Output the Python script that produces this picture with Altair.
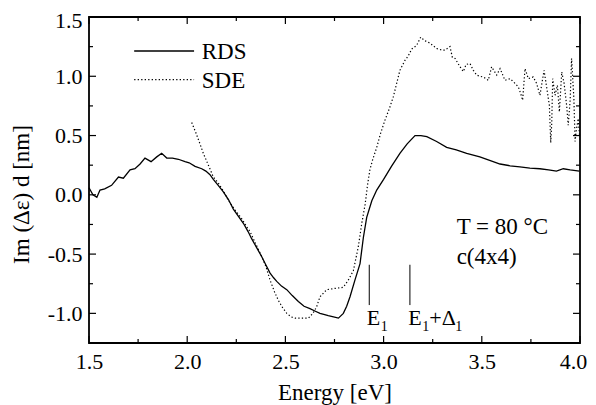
import altair as alt
import pandas as pd

# ---------------- data ----------------
rds_x = [1.50, 1.52, 1.54, 1.556, 1.58, 1.615, 1.65, 1.675, 1.709, 1.734, 1.76, 1.785, 1.816, 1.845,
         1.870, 1.896, 1.925, 1.955, 1.989, 2.01, 2.04, 2.074, 2.095, 2.116, 2.133, 2.158, 2.184,
         2.21, 2.235, 2.26, 2.286, 2.31, 2.328, 2.355, 2.379, 2.40, 2.422, 2.44, 2.456, 2.48, 2.507,
         2.535, 2.566, 2.595, 2.625, 2.65, 2.676, 2.70, 2.718, 2.745, 2.77, 2.795, 2.812, 2.829,
         2.854, 2.88, 2.897, 2.914, 2.94, 2.965, 3.0, 3.04, 3.083, 3.12, 3.16, 3.19, 3.22, 3.27,
         3.321, 3.37, 3.423, 3.49, 3.54, 3.593, 3.644, 3.694, 3.745, 3.796, 3.84, 3.88, 3.915,
         3.95, 3.997]
rds_y = [0.06, 0.00, -0.02, 0.04, 0.05, 0.08, 0.15, 0.14, 0.21, 0.22, 0.26, 0.31, 0.28, 0.32,
         0.35, 0.31, 0.31, 0.30, 0.28, 0.27, 0.24, 0.22, 0.20, 0.17, 0.13, 0.08, 0.025,
         -0.04, -0.12, -0.18, -0.24, -0.31, -0.37, -0.45, -0.52, -0.59, -0.66, -0.70, -0.73, -0.77, -0.80,
         -0.85, -0.90, -0.94, -0.96, -0.98, -1.00, -1.01, -1.02, -1.03, -1.04, -1.00, -0.94, -0.86,
         -0.72, -0.58, -0.36, -0.19, -0.05, 0.04, 0.13, 0.24, 0.35, 0.43, 0.50, 0.50, 0.49, 0.45,
         0.40, 0.38, 0.35, 0.32, 0.29, 0.26, 0.245, 0.235, 0.225, 0.22, 0.21, 0.20, 0.22,
         0.21, 0.20]

sde_x = [2.023, 2.045, 2.065, 2.082, 2.108, 2.133, 2.158, 2.185, 2.209, 2.24, 2.277, 2.303, 2.32,
         2.345, 2.371, 2.40, 2.422, 2.445, 2.464, 2.485, 2.507, 2.53, 2.549, 2.58, 2.617, 2.64,
         2.659, 2.676, 2.71, 2.75, 2.795, 2.82, 2.846, 2.871, 2.889, 2.906, 2.918, 2.93, 2.945,
         2.965, 2.985, 3.007, 3.03, 3.05, 3.068, 3.083, 3.109, 3.125, 3.143, 3.168, 3.189, 3.21,
         3.236, 3.27, 3.30, 3.313, 3.338, 3.35, 3.364, 3.389, 3.406, 3.42, 3.44, 3.457, 3.474,
         3.49, 3.508, 3.533, 3.55, 3.576, 3.593, 3.618, 3.644, 3.669, 3.686, 3.698, 3.708, 3.72,
         3.737, 3.762, 3.779, 3.796, 3.817, 3.83, 3.844, 3.851, 3.856, 3.861, 3.873, 3.885, 3.895,
         3.907, 3.919, 3.932, 3.94, 3.950, 3.957, 3.969, 3.975, 3.98, 3.991, 3.998]
sde_y = [0.61, 0.52, 0.43, 0.35, 0.25, 0.15, 0.10, 0.03, -0.045, -0.12, -0.20, -0.27, -0.31,
         -0.40, -0.49, -0.60, -0.72, -0.82, -0.89, -0.95, -1.00, -1.03, -1.04, -1.04, -1.04, -1.00,
         -0.945, -0.86, -0.80, -0.79, -0.78, -0.72, -0.64, -0.44, -0.24, -0.08, 0.08, 0.21, 0.30,
         0.40, 0.52, 0.63, 0.73, 0.83, 0.95, 1.05, 1.135, 1.17, 1.23, 1.26, 1.33, 1.30,
         1.28, 1.234, 1.22, 1.22, 1.25, 1.16, 1.15, 1.08, 1.04, 1.10, 1.107, 1.05, 1.01,
         1.00, 0.994, 0.966, 1.08, 1.01, 1.065, 0.966, 0.98, 0.94, 0.91, 0.854, 0.798, 1.065,
         0.98, 0.994, 0.94, 0.84, 1.05, 0.91, 0.755, 0.44, 0.60, 0.98, 0.84, 0.924, 0.70,
         1.036, 0.94, 0.755, 0.587, 0.80, 1.15, 0.81, 0.45, 0.53, 0.643, 0.50]

x_major = [1.5, 2.0, 2.5, 3.0, 3.5, 4.0]
x_minor = [1.75, 2.25, 2.75, 3.25, 3.75]
y_major = [-1.0, -0.5, 0.0, 0.5, 1.0, 1.5]
y_minor = [-0.75, -0.25, 0.25, 0.75, 1.25]

legend_labels = ["RDS", "SDE"]
legend_line_x = [1.73, 2.035]
legend_line_y = [1.213, 0.972]
legend_text_x = 2.074
legend_text_y = [1.143, 0.905]

cond_labels = ["T = 80 °C", "c(4x4)"]
cond_x = 3.372
cond_y = [-0.332, -0.585]

marker_x = [2.927, 3.134]
marker_y = [-0.59, -0.93]
marker_label_y = -1.10

W, H = 491, 326
FONT = "Liberation Serif, Times New Roman, DejaVu Serif, serif"

xs = alt.Scale(domain=[1.5, 4.0], nice=False, zero=False)
ys = alt.Scale(domain=[-1.25, 1.5], nice=False, zero=False)
xaxis = alt.Axis(values=x_major, ticks=False, domain=False, grid=False, title="Energy [eV]",
                 labelExpr="replace(format(datum.value, '.1f'), '\u2212', '-')",
                 labelFlush=False, labelOverlap=False, labelBound=False,
                 labelOffset={"condition": {"test": "datum.value > 3.99", "value": -7}, "value": 0},
                 labelPadding=8, titlePadding=9)
yaxis = alt.Axis(values=y_major, ticks=False, domain=False, grid=False, title="Im (\u0394\u03b5) d [nm]",
                 labelExpr="replace(format(datum.value, '.1f'), '\u2212', '-')",
                 labelFlush=False, labelOverlap=False, labelBound=False,
                 labelOffset={"condition": {"test": "datum.value > 1.49", "value": 3}, "value": 0},
                 labelPadding=7, titlePadding=14, titleY=H / 2 + 14)


def X(field="x"):
    return alt.X(f"{field}:Q", scale=xs, axis=xaxis)


def Y(field="y"):
    return alt.Y(f"{field}:Q", scale=ys, axis=yaxis)


rds = pd.DataFrame({"x": rds_x, "y": rds_y})
sde = pd.DataFrame({"x": sde_x, "y": sde_y})

rds_line = alt.Chart(rds).mark_line(color="black", strokeWidth=1.3).encode(x=X(), y=Y())
sde_line = alt.Chart(sde).mark_line(color="black", strokeWidth=1.2, strokeDash=[1.3, 2.2]).encode(x=X(), y=Y())

# legend
leg_solid = alt.Chart(pd.DataFrame({"x": [legend_line_x[0]], "x2": [legend_line_x[1]], "y": [legend_line_y[0]]})) \
    .mark_rule(color="black", strokeWidth=1.3).encode(x=X(), x2="x2:Q", y=Y())
leg_dot = alt.Chart(pd.DataFrame({"x": [legend_line_x[0]], "x2": [legend_line_x[1]], "y": [legend_line_y[1]]})) \
    .mark_rule(color="black", strokeWidth=1.2, strokeDash=[1.3, 2.2]).encode(x=X(), x2="x2:Q", y=Y())
leg_text = alt.Chart(pd.DataFrame({"x": [legend_text_x] * 2, "y": legend_text_y, "t": legend_labels})) \
    .mark_text(align="left", baseline="alphabetic", font=FONT, fontSize=23, color="black") \
    .encode(x=X(), y=Y(), text="t:N")

cond_text = alt.Chart(pd.DataFrame({"x": [cond_x] * 2, "y": cond_y, "t": cond_labels})) \
    .mark_text(align="left", baseline="alphabetic", font=FONT, fontSize=23, color="black") \
    .encode(x=X(), y=Y(), text="t:N")

# E1 markers
mk = pd.DataFrame({"x": marker_x, "y": [marker_y[0]] * 2, "y2": [marker_y[1]] * 2})
mk_rules = alt.Chart(mk).mark_rule(color="black", strokeWidth=1).encode(x=X(), y=Y(), y2="y2:Q")


def label(xv, txt, dx, size, dy):
    return alt.Chart(pd.DataFrame({"x": [xv], "y": [marker_label_y], "t": [txt]})) \
        .mark_text(align="left", baseline="alphabetic", font=FONT, fontSize=size, color="black", dx=dx, dy=dy) \
        .encode(x=X(), y=Y(), text="t:N")


e_left = [marker_x[0] - 0.013, marker_x[1] - 0.008]
lab_layers = [
    label(e_left[0], "E", 0, 22, 0),
    label(e_left[0], "1", 14, 14, 6),
    label(e_left[1], "E", 0, 22, 0),
    label(e_left[1], "1", 14, 14, 6),
    label(e_left[1], "+\u0394", 21, 22, 0),
    label(e_left[1], "1", 47, 14, 6),
]


# inward ticks on all four sides
def xticks(vals, length):
    d = pd.DataFrame({"x": vals})
    b = alt.Chart(d).mark_rule(color="black", strokeWidth=1.2).encode(
        x=X(), y=alt.value(H), y2=alt.value(H - length))
    t = alt.Chart(d).mark_rule(color="black", strokeWidth=1.2).encode(
        x=X(), y=alt.value(0), y2=alt.value(length))
    return [b, t]


def yticks(vals, length):
    d = pd.DataFrame({"y": vals})
    l = alt.Chart(d).mark_rule(color="black", strokeWidth=1.2).encode(
        y=Y(), x=alt.value(0), x2=alt.value(length))
    r = alt.Chart(d).mark_rule(color="black", strokeWidth=1.2).encode(
        y=Y(), x=alt.value(W), x2=alt.value(W - length))
    return [l, r]


tick_layers = xticks(x_major, 7) + xticks(x_minor, 4) + yticks(y_major, 7) + yticks(y_minor, 4)

chart = alt.layer(
    rds_line, sde_line, leg_solid, leg_dot, leg_text, cond_text, mk_rules, *lab_layers, *tick_layers
).properties(
    width=W, height=H,
    autosize=alt.AutoSizeParams(type="none"),
    padding={"left": 81, "top": 9, "right": 8, "bottom": 62},
    background="white",
).configure_view(
    stroke="black", strokeWidth=1.8
).configure_axis(
    labelFont=FONT, titleFont=FONT, labelFontSize=22, titleFontSize=23,
    labelColor="black", titleColor="black", titleFontWeight="normal",
)

chart.save("out.html", embed_options={"renderer": "svg", "actions": False})
